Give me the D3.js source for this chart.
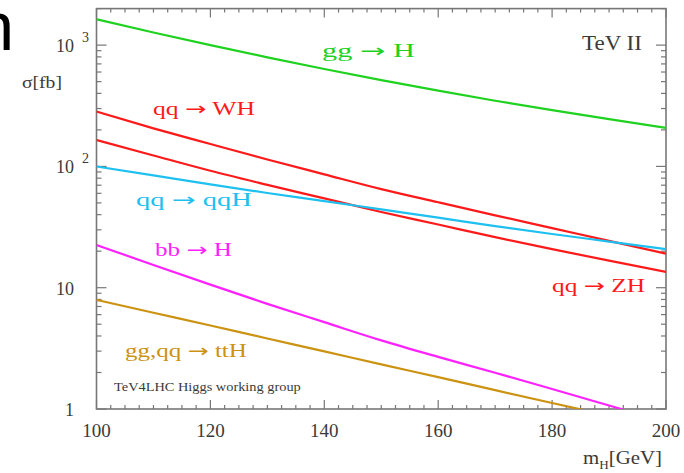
<!DOCTYPE html>
<html>
<head>
<meta charset="utf-8">
<script src="https://cdn.jsdelivr.net/npm/d3@7"></script>
<style>
  body { margin: 0; background: #fff; }
  svg { display: block; }
</style>
</head>
<body>
<script>
'use strict';

// Higgs mass points [GeV]
const masses = [100, 110, 120, 130, 140, 150, 160, 170, 180, 190, 200];

// cross sections in fb
const ggH  = [1632, 1270, 999, 793, 636, 515, 421, 348, 291, 245, 208];
const WH   = [283, 206, 153, 114, 86, 65, 50.6, 39.5, 31.0, 24.3, 19.1];
const ZH   = [165, 123, 92, 70.5, 54.5, 42.1, 33.2, 26.1, 20.8, 16.7, 13.5];
const qqH  = [99.8, 84.3, 71, 60.4, 51.8, 44.2, 37.8, 32.2, 27.7, 24.0, 20.8];
const bbH  = [22.5, 15.4, 10.6, 7.36, 5.20, 3.68, 2.69, 1.99, 1.46, 1.07, 0.78];
const ttH  = [7.94, 6.22, 4.88, 3.81, 2.99, 2.33, 1.83, 1.43, 1.12, 0.88, 0.69];

// process names split round the arrow
const initialStates = ["gg", "qq", "qq", "qq", "bb", "gg,qq"];
const finalStates   = ["H", "WH", "ZH", "qqH", "H", "ttH"];
const xTicks = [100, 120, 140, 160, 180, 200];

(function() {

  let svgContainer = d3.select('body')
    .append('svg')
    .attr('width', 684)
    .attr('height', 473);

  const serif = "'Liberation Serif', 'DejaVu Serif', serif";
  const axisGrey = "#777";
  const textGrey = "#3a3a3a";

  // scales
  let xScale = d3.scaleLinear().domain([100, 200]).range([96.5, 666]);
  let yScale = d3.scaleLog().domain([1, 2000]).range([409, 8.6]);

  let x0 = xScale.range()[0], x1 = xScale.range()[1];
  let y0 = yScale.range()[0], y1 = yScale.range()[1];

  // clip area for the curves
  svgContainer.append('clipPath').attr('id', 'plotClip')
    .append('rect')
    .attr('x', x0).attr('y', y1)
    .attr('width', x1 - x0).attr('height', y0 - y1);

  drawAxes();
  drawCurves();
  makeLabels();

  // the picture's text is a bit wider than the font: stretch it horizontally
  function stretchTo(sel, x, width) {
    let w = sel.node().getComputedTextLength();
    if (w > 0) {
      sel.attr('transform', `translate(${x},0) scale(${width / w},1) translate(${-x},0)`);
    }
    return sel;
  }

  // frame, inward ticks and tick labels
  function drawAxes() {
    // minor x ticks every 2.5 GeV
    let xMinor = d3.range(100, 200.01, 2.5);
    let tickG = svgContainer.append('g')
      .attr('stroke', axisGrey)
      .attr('stroke-width', 1.2);

    xMinor.forEach((v) => {
      let len = (v % 20 === 0) ? 9 : 4;
      let px = xScale(v);
      tickG.append('line').attr('x1', px).attr('x2', px).attr('y1', y0).attr('y2', y0 - len);
      tickG.append('line').attr('x1', px).attr('x2', px).attr('y1', y1).attr('y2', y1 + len);
    });

    // y ticks: 1..9 per decade
    let yMinor = [];
    for (let d = 0; d <= 3; d++) {
      for (let k = 1; k <= 9; k++) {
        let v = k * Math.pow(10, d);
        if (v <= 2000) yMinor.push(v);
      }
    }
    yMinor.forEach((v) => {
      let len = (String(v)[0] === '1') ? 10 : 5;
      let py = yScale(v);
      tickG.append('line').attr('x1', x0).attr('x2', x0 + len).attr('y1', py).attr('y2', py);
      tickG.append('line').attr('x1', x1).attr('x2', x1 - len).attr('y1', py).attr('y2', py);
    });

    // frame
    svgContainer.append('rect')
      .attr('x', x0).attr('y', y1)
      .attr('width', x1 - x0).attr('height', y0 - y1)
      .attr('fill', 'none')
      .attr('stroke', axisGrey)
      .attr('stroke-width', 1.6);

    // x tick labels
    svgContainer.selectAll('.xlab')
      .data(xTicks)
      .enter()
      .append('text')
      .attr('class', 'xlab')
      .attr('x', (d) => xScale(d))
      .attr('y', 437)
      .attr('text-anchor', 'middle')
      .style('font-family', serif)
      .style('font-size', '19px')
      .attr('fill', textGrey)
      .text((d) => d);

    // y tick labels
    let yLabels = [
      { v: 1, base: "1", exp: "" },
      { v: 10, base: "10", exp: "" },
      { v: 100, base: "10", exp: "2" },
      { v: 1000, base: "10", exp: "3" }
    ];
    yLabels.forEach((l) => {
      svgContainer.append('text')
        .attr('x', 74)
        .attr('y', yScale(l.v) + 7)
        .attr('text-anchor', 'end')
        .style('font-family', serif)
        .style('font-size', '18px')
        .attr('fill', textGrey)
        .text(l.base);
      if (l.exp) {
        svgContainer.append('text')
          .attr('x', 82)
          .attr('y', yScale(l.v) - 3)
          .style('font-family', serif)
          .style('font-size', '14px')
          .attr('fill', textGrey)
          .text(l.exp);
      }
    });
  }

  // one smooth line per process
  function drawCurves() {
    let curves = [
      { vals: ggH, color: "#1fd21f" },
      { vals: WH,  color: "#ff1a1a" },
      { vals: ZH,  color: "#ff1a1a" },
      { vals: qqH, color: "#1ec0f0" },
      { vals: bbH, color: "#ff22ff" },
      { vals: ttH, color: "#cc9212" }
    ];

    let line = d3.line()
      .x((d) => xScale(d[0]))
      .y((d) => yScale(d[1]))
      .curve(d3.curveMonotoneX);

    let g = svgContainer.append('g').attr('clip-path', 'url(#plotClip)');
    curves.forEach((c) => {
      g.append('path')
        .datum(masses.map((m, i) => [m, c.vals[i]]))
        .attr('d', line)
        .attr('fill', 'none')
        .attr('stroke', c.color)
        .attr('stroke-width', 2.2);
    });
  }

  // process names, titles
  function makeLabels() {
    let labels = [
      { x: 322, y: 57,  w: 93,  color: "#1fd21f" },
      { x: 153, y: 115, w: 102, color: "#ff1a1a" },
      { x: 552, y: 292, w: 93,  color: "#ff1a1a" },
      { x: 136, y: 206, w: 116, color: "#1ec0f0" },
      { x: 155, y: 256, w: 77,  color: "#ff22ff" },
      { x: 125, y: 357, w: 122, color: "#cc9212" }
    ];
    labels.forEach((l, i) => {
      let t = svgContainer.append('text')
        .attr('x', l.x)
        .attr('y', l.y)
        .style('font-family', serif)
        .style('font-size', '18px')
        .attr('fill', l.color);
      t.append('tspan').text(initialStates[i] + ' ');
      t.append('tspan')
        .style('font-family', "'DejaVu Sans', sans-serif")
        .text('→');
      t.append('tspan').text(' ' + finalStates[i]);
      stretchTo(t, l.x, l.w);
    });

    stretchTo(svgContainer.append('text')
      .attr('x', 582).attr('y', 50)
      .style('font-family', serif)
      .style('font-size', '20px')
      .attr('fill', textGrey)
      .text('TeV II'), 582, 60);

    stretchTo(svgContainer.append('text')
      .attr('x', 114).attr('y', 391)
      .style('font-family', serif)
      .style('font-size', '13px')
      .attr('fill', textGrey)
      .text('TeV4LHC Higgs working group'), 114, 187);

    stretchTo(svgContainer.append('text')
      .attr('x', 22).attr('y', 88)
      .style('font-family', serif)
      .style('font-size', '17px')
      .attr('fill', textGrey)
      .text('σ[fb]'), 22, 40);

    // x axis title with subscript H
    let xt = svgContainer.append('text')
      .attr('x', 583).attr('y', 464)
      .style('font-family', serif)
      .style('font-size', '19px')
      .attr('fill', textGrey);
    xt.append('tspan').text('m');
    xt.append('tspan').attr('dy', 5).style('font-size', '12px').text('H');
    xt.append('tspan').attr('dy', -5).text('[GeV]');
    stretchTo(xt, 583, 79);

    // leftover letter of the slide title at the top left
    svgContainer.append('text')
      .attr('x', 14).attr('y', 50)
      .attr('text-anchor', 'end')
      .style('font-family', "'Liberation Sans', Arial, sans-serif")
      .style('font-size', '68px')
      .attr('fill', '#000')
      .text('n');
  }

})();
</script>
</body>
</html>
